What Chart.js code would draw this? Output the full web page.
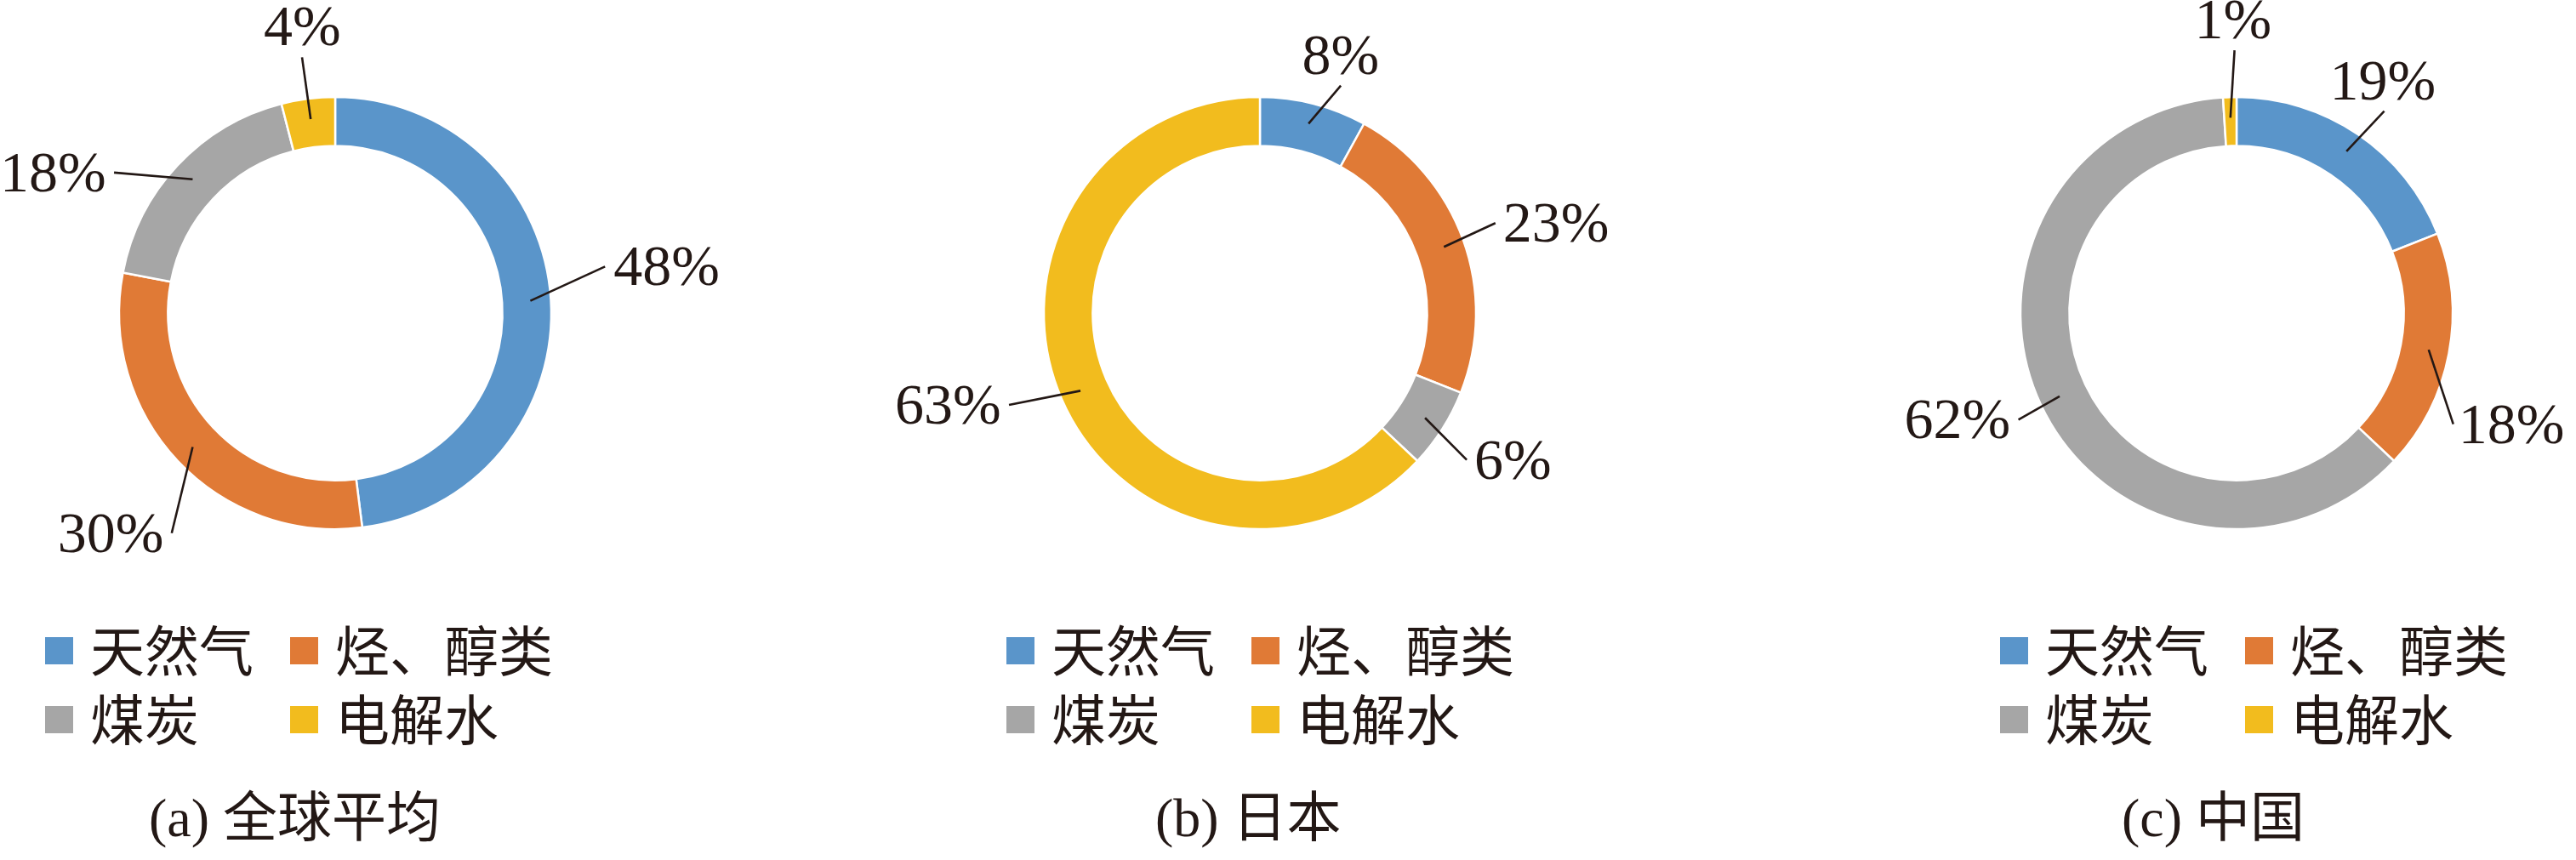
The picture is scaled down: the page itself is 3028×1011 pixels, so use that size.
<!DOCTYPE html>
<html>
<head>
<meta charset="utf-8">
<title>制氢原料结构</title>
<script src="https://cdn.jsdelivr.net/npm/chart.js@4.4.1/dist/chart.umd.min.js"></script>
<style>
  html, body { margin: 0; padding: 0; background: #ffffff; }
  #stage { position: relative; width: 3028px; height: 1011px; overflow: hidden; }
  #stage canvas { position: absolute; left: 0; top: 0; }
</style>
</head>
<body>
<div id="stage">
  <canvas id="panelA" width="3028" height="1011"></canvas>
  <canvas id="panelB" width="3028" height="1011"></canvas>
  <canvas id="panelC" width="3028" height="1011"></canvas>
</div>
<script>
// ---- data ----
const categories = ['天然气', '烃、醇类', '煤炭', '电解水'];
const globalShare = [48, 30, 18, 4];
const japanShare = [8, 23, 6, 63];
const chinaShare = [19, 18, 62, 1];
const panelTitles = ['(a) 全球平均', '(b) 日本', '(c) 中国'];

// ---- styling ----
const sliceColors = ['#5A95CA', '#E07A36', '#A6A6A6', '#F2BC1E'];
const INK = '#231815';
const SERIF = "'Liberation Serif', 'Times New Roman', 'Noto Sans CJK SC', serif";
const CJK = "'Noto Sans CJK SC', 'Noto Sans', sans-serif";
const PAGE_W = 3028;

// label placement around each ring: [distance from centre, angular nudge in degrees]
const placeA = [[393, -4.4], [369, -1.3], [369, -16.6], [339, 0.6]];
const placeB = [[318, 3.0], [364, 2.9], [344, -2.3], [382, 7.0]];
const placeC = [[324, -1.8], [350, 11.1], [351, 4.3], [345, 1.4]];

// panel layout: ring centre x, caption start x, legend start x
const panels = [
  { canvas: 'panelA', values: globalShare, title: panelTitles[0], cx: 394, titleX: 175, legendX: 53, place: placeA },
  { canvas: 'panelB', values: japanShare, title: panelTitles[1], cx: 1481, titleX: 1358, legendX: 1183, place: placeB },
  { canvas: 'panelC', values: chinaShare, title: panelTitles[2], cx: 2629, titleX: 2494, legendX: 2351, place: placeC }
];

// Percentage labels with leader lines running into the ring
const ringLabels = {
  id: 'ringLabels',
  afterDatasetsDraw(chart, args, opts) {
    const ctx = chart.ctx;
    const meta = chart.getDatasetMeta(0);
    const values = chart.data.datasets[0].data;
    ctx.save();
    ctx.font = opts.size + 'px ' + SERIF;
    ctx.fillStyle = INK;
    ctx.strokeStyle = INK;
    ctx.lineWidth = 2.6;
    ctx.lineCap = 'butt';
    meta.data.forEach((arc, i) => {
      const p = arc.getProps(['x', 'y', 'startAngle', 'endAngle', 'outerRadius'], true);
      const mid = (p.startAngle + p.endAngle) / 2;
      const [dist, nudge] = opts.placement[i];
      const a = mid + nudge * Math.PI / 180;
      const lx = p.x + dist * Math.cos(a);
      const ly = p.y + dist * Math.sin(a);
      const text = values[i] + '%';
      const m = ctx.measureText(text);
      const inkW = m.actualBoundingBoxLeft + m.actualBoundingBoxRight;
      const inkH = m.actualBoundingBoxAscent + m.actualBoundingBoxDescent;
      ctx.textAlign = 'left';
      ctx.textBaseline = 'alphabetic';
      const tx = lx - inkW / 2 + m.actualBoundingBoxLeft;
      const ty = ly + (m.actualBoundingBoxAscent - m.actualBoundingBoxDescent) / 2;
      ctx.fillText(text, tx, ty);

      // leader line: from the label's nearest side to a point inside the ring
      const ex = p.x + p.outerRadius * opts.reach * Math.cos(mid);
      const ey = p.y + p.outerRadius * opts.reach * Math.sin(mid);
      const dx = ex - lx, dy = ey - ly;
      let sx, sy;
      if (Math.abs(dy) > 1.5 * Math.abs(dx)) {
        sx = lx;
        sy = ly + Math.sign(dy) * (inkH / 2 + opts.gapV);
      } else {
        sx = lx + Math.sign(dx) * (inkW / 2 + opts.gapH);
        sy = ly;
      }
      ctx.beginPath();
      ctx.moveTo(sx, sy);
      ctx.lineTo(ex, ey);
      ctx.stroke();
    });
    ctx.restore();
  }
};

// Two-column legend beneath each ring
const gridLegend = {
  id: 'gridLegend',
  afterDraw(chart, args, opts) {
    const ctx = chart.ctx;
    const labels = chart.data.labels;
    const colors = chart.data.datasets[0].backgroundColor;
    ctx.save();
    ctx.font = opts.size + 'px ' + CJK;
    ctx.textAlign = 'left';
    ctx.textBaseline = 'middle';
    labels.forEach((label, i) => {
      const col = i % 2;
      const row = Math.floor(i / 2);
      const bx = opts.left + col * opts.colGap;
      const cy = opts.top + row * opts.rowGap;
      ctx.fillStyle = colors[i];
      ctx.fillRect(bx, cy - opts.boxH / 2, opts.boxW, opts.boxH);
      ctx.fillStyle = INK;
      ctx.fillText(label, bx + opts.textOffset, cy);
    });
    ctx.restore();
  }
};

panels.forEach(panel => {
  const ctx = document.getElementById(panel.canvas).getContext('2d');
  new Chart(ctx, {
    type: 'doughnut',
    data: {
      labels: categories,
      datasets: [{
        data: panel.values,
        backgroundColor: sliceColors,
        borderColor: '#ffffff',
        borderWidth: 2.5
      }]
    },
    options: {
      responsive: false,
      animation: false,
      events: [],
      radius: 254,
      cutout: '77.4%',
      rotation: 0,
      layout: {
        padding: {
          left: panel.titleX,
          right: PAGE_W + panel.titleX - 2 * panel.cx,
          top: 0,
          bottom: 6
        }
      },
      plugins: {
        legend: { display: false },
        tooltip: { enabled: false },
        title: {
          display: true,
          position: 'bottom',
          align: 'start',
          text: panel.title,
          color: INK,
          font: { family: SERIF, size: 64, weight: 'normal' },
          padding: { top: 192, bottom: 0 }
        },
        ringLabels: {
          placement: panel.place,
          size: 68,
          reach: 0.905,
          gapH: 11,
          gapV: 13
        },
        gridLegend: {
          left: panel.legendX,
          top: 765,
          rowGap: 81,
          colGap: 288,
          boxW: 33,
          boxH: 32,
          textOffset: 53,
          size: 64
        }
      }
    },
    plugins: [ringLabels, gridLegend]
  });
});
</script>
</body>
</html>
